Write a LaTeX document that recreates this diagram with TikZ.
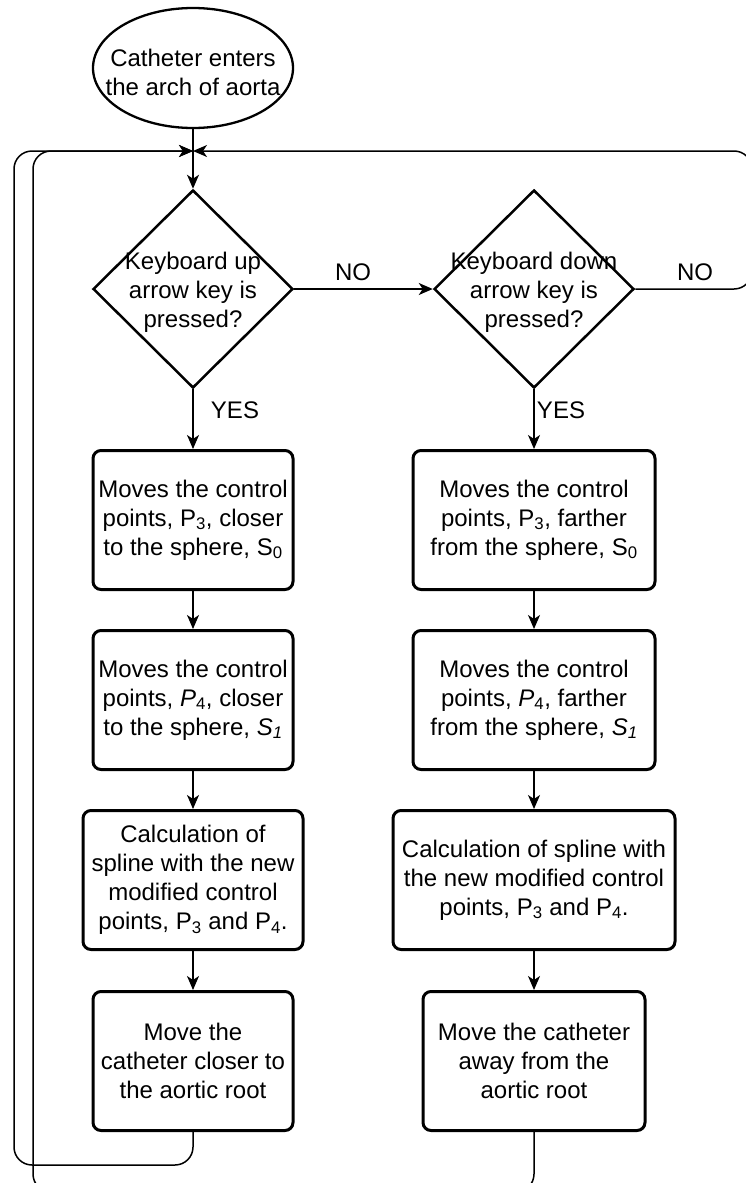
\documentclass[tikz,border=0pt]{standalone}
\usepackage{fontspec}
\setmainfont{Liberation Sans}
\usetikzlibrary{shapes.geometric,arrows.meta}

\begin{document}
\begin{tikzpicture}[x=1pt,y=-1pt,
  every node/.style={font=\fontsize{24}{29}\selectfont, align=center},
  startnode/.style={draw, ellipse, line width=2.3pt, minimum width=200pt, minimum height=120pt, inner sep=0pt},
  decision/.style={draw, diamond, aspect=1, line width=2.5pt, minimum width=200pt, minimum height=198pt, inner sep=0pt},
  stepbox/.style={draw, line width=3pt, rounded corners=8pt, minimum height=139pt, inner sep=0pt},
  flow/.style={line width=1.5pt, -{Stealth[length=14pt,width=12pt,inset=4pt]}},
  loopline/.style={rounded corners=18pt}]
\useasboundingbox (0,0) rectangle (745,1183);

\node[startnode] (start) at (193,68) {};
\node (starttxt) at (193,72) {Catheter enters\\the arch of aorta};

\node[decision] (up) at (193,289) {};
\node (uptxt) at (193,292) {Keyboard up\\arrow key is\\pressed?};
\node[decision] (down) at (534,289) {};
\node (downtxt) at (534,292) {Keyboard down\\arrow key is\\pressed?};

\node[stepbox, minimum width=200pt] (closeA) at (193,520) {Moves the control\\points, P\textsubscript{3}, closer\\to the sphere, S\textsubscript{0}};
\node[stepbox, minimum width=200pt] (closeB) at (193,700) {Moves the control\\points, \textit{P}\textsubscript{4}, closer\\to the sphere, \textit{S\textsubscript{1}}};
\node[stepbox, minimum width=220pt] (splineL) at (193,880) {Calculation of\\spline with the new\\modified control\\points, P\textsubscript{3} and P\textsubscript{4}.};
\node[stepbox, minimum width=200pt] (moveL) at (193,1061) {Move the\\catheter closer to\\the aortic root};

\node[stepbox, minimum width=242pt] (farA) at (534,520) {Moves the control\\points, P\textsubscript{3}, farther\\from the sphere, S\textsubscript{0}};
\node[stepbox, minimum width=242pt] (farB) at (534,700) {Moves the control\\points, \textit{P}\textsubscript{4}, farther\\from the sphere, \textit{S\textsubscript{1}}};
\node[stepbox, minimum width=282pt] (splineR) at (534,880) {Calculation of spline with\\the new modified control\\points, P\textsubscript{3} and P\textsubscript{4}.};
\node[stepbox, minimum width=222pt] (moveR) at (534,1061) {Move the catheter\\away from the\\aortic root};

\node (noA) at (353,272) {NO};
\node (noB) at (695,272) {NO};
\node (yesA) at (235,410) {YES};
\node (yesB) at (561,410) {YES};

\coordinate (merge) at (193,151);

\draw[flow] (start) -- (up);
\draw[flow] (up) -- (down);
\draw[flow] (up) -- (closeA);
\draw[flow] (closeA) -- (closeB);
\draw[flow] (closeB) -- (splineL);
\draw[flow] (splineL) -- (moveL);
\draw[flow] (down) -- (farA);
\draw[flow] (farA) -- (farB);
\draw[flow] (farB) -- (splineR);
\draw[flow] (splineR) -- (moveR);

\draw[flow, loopline] (moveL.south) |- (14,1165) -- (14,151) -- (merge);
\draw[flow, loopline] (moveR.south) |- (33,1192) -- (33,151) -- (merge);
\draw[flow, loopline] (down.east) -| (752,151) -- (merge);
\end{tikzpicture}
\end{document}
